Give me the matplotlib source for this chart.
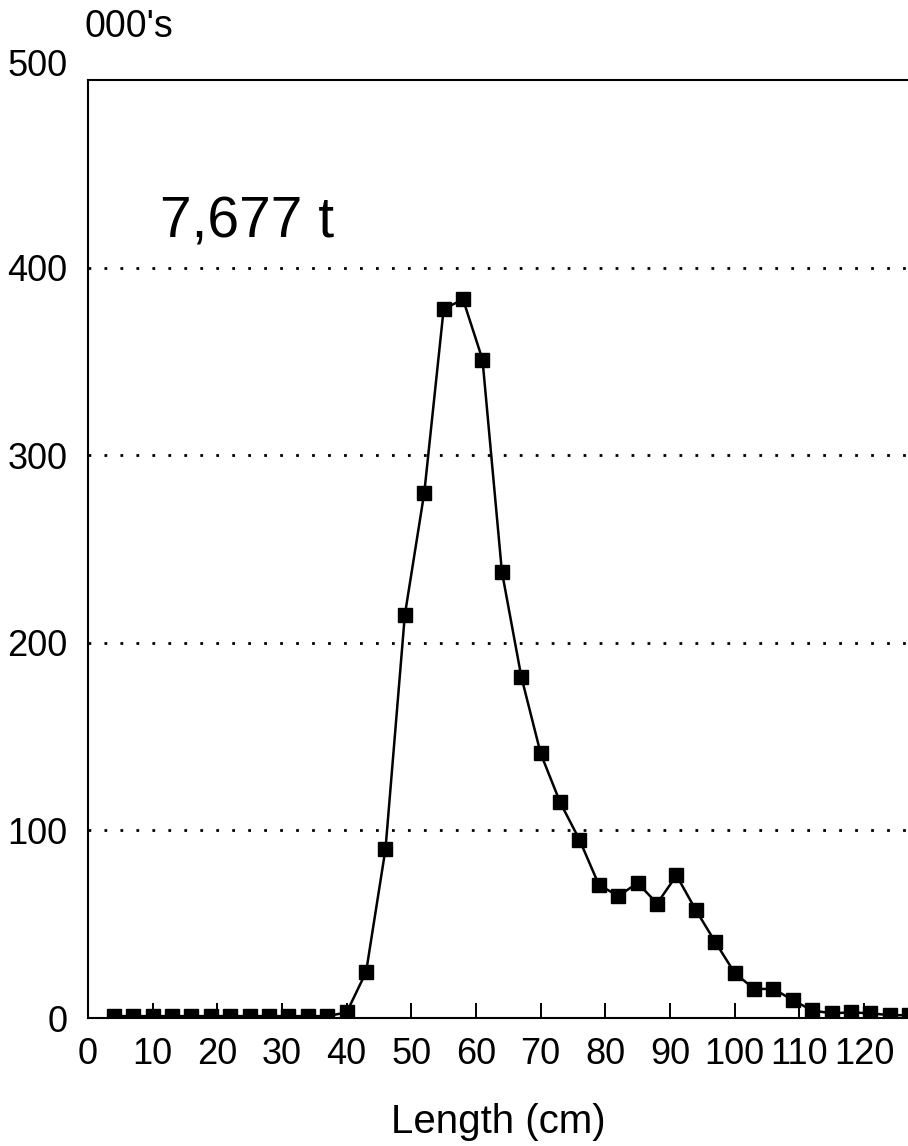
import matplotlib
matplotlib.use("Agg")
import matplotlib.pyplot as plt
import matplotlib.transforms as mtransforms

plt.rcParams['font.family'] = ['Liberation Sans', 'DejaVu Sans']

# length class midpoints (cm) and numbers (000's)
lengths = [4, 7, 10, 13, 16, 19, 22, 25, 28, 31, 34, 37, 40, 43, 46, 49, 52,
           55, 58, 61, 64, 67, 70, 73, 76, 79, 82, 85, 88, 91, 94, 97, 100,
           103, 106, 109, 112, 115, 118, 121, 124, 127]
numbers = [1, 1, 1, 1, 1, 1, 1, 1, 1, 1, 1, 1, 3, 24.5, 90, 215, 280,
           378, 383, 351, 238, 182, 141, 115, 95, 71, 65, 72, 61, 76, 57.5, 40.5, 24,
           15.5, 15.5, 9.5, 4, 2.5, 3, 2.5, 1.5, 1.5]
xticks = [0, 10, 20, 30, 40, 50, 60, 70, 80, 90, 100, 110, 120]
yticks = [0, 100, 200, 300, 400, 500]
grid_levels = [100, 200, 300, 400]
weight_label = "7,677 t"

fig = plt.figure(figsize=(9.08, 11.46), dpi=100)
ax = fig.add_axes([88 / 908, 1 - 1018 / 1146, 1 - 88 / 908, (1018 - 80) / 1146])

for g in grid_levels:
    ax.axhline(g, color='black', lw=2, linestyle=(0, (1, 4.75)), zorder=1)

ax.plot(lengths, numbers, color='black', lw=1.8, marker='s', markersize=9.5,
        zorder=3)

ax.set_xlim(0, 126.8)
ax.set_ylim(0, 500)
ax.set_xticks(xticks)
ax.set_yticks(yticks)
ax.tick_params(axis='x', direction='in', length=11, width=1.4, pad=14,
               labelsize=26)
ax.tick_params(axis='y', length=0, pad=15, labelsize=26)

# the 500 label sits a little above the frame line
lab500 = ax.get_yticklabels()[-1]
lab500.set_transform(lab500.get_transform() +
                     mtransforms.ScaledTranslation(0, 18 / 100, fig.dpi_scale_trans))

for side in ['left', 'bottom', 'top']:
    ax.spines[side].set_linewidth(1.5)
ax.spines['right'].set_visible(False)

ax.text(11.1, 416, weight_label, fontsize=41, ha='left', va='baseline')

fig.text(85 / 908, 1 - 37 / 1146, "000's", fontsize=27, ha='left', va='baseline')
fig.text(498 / 908, 1 - 1133 / 1146, "Length (cm)", fontsize=29, ha='center',
         va='baseline')

fig.savefig("out.png", dpi=100)
